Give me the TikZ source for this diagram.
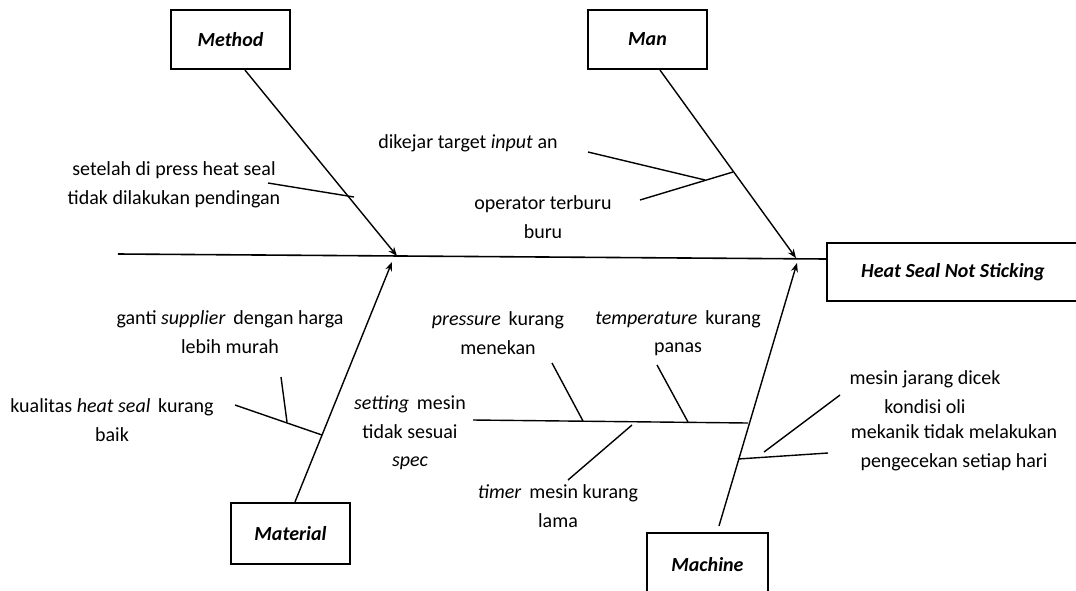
\documentclass[tikz,border=0pt]{standalone}
\usepackage{fontspec}
\setmainfont{Carlito}
\usetikzlibrary{arrows.meta}
\begin{document}
\begin{tikzpicture}[x=1pt,y=-1pt,
  txt/.style={font=\fontsize{20}{28.5}\selectfont},
  bone/.style={line width=1.4pt},
  arr/.style={bone,-{Stealth[length=9pt,width=7pt]}},
  cat/.style={txt,draw,line width=2.2pt,inner sep=0pt,font=\fontsize{20}{28.5}\selectfont\bfseries\itshape},
  lbl/.style={txt,align=center,inner sep=0pt}]
\path[use as bounding box,clip] (0,0) rectangle (1076,590);

% category boxes and the effect box
\node[cat,minimum width=119pt,minimum height=59pt] (method) at (230.5,39.5) {Method};
\node[cat,minimum width=119pt,minimum height=59pt] (man) at (647.5,39.5) {Man};
\node[cat,minimum width=119pt,minimum height=61pt] (material) at (290.5,533.5) {Material};
\node[cat,minimum width=121pt,minimum height=64pt] (machine) at (707.5,565) {Machine};
\node[cat,minimum width=252pt,minimum height=58pt] (head) at (953,272) {Heat Seal Not Sticking};

% spine
\coordinate (s0) at (118,254);
\coordinate (s1) at (827,259);
\draw[line width=1.6pt] (s0) -- (s1);

% main bones
\coordinate (mt) at (397,256);
\coordinate (nt) at (796,258);
\coordinate (at) at (392,262);
\coordinate (ct) at (797,263);
\draw[arr] ([xshift=14.5pt]method.south) -- (mt);
\draw[arr] ([xshift=12.5pt]man.south) -- (nt);
\draw[arr] ([xshift=4.5pt]material.north) -- (at);
\draw[arr] ([xshift=11.5pt,yshift=6pt]machine.north) -- (ct);

% Method causes
\coordinate (c1a) at (268,183);
\coordinate (c1b) at (354,197);
\draw[bone] (c1a) -- (c1b);
\node[lbl] (t1) at (174,185) {setelah di press heat seal\\tidak dilakukan pendingan};

% Man causes
\coordinate (c2a) at (588,152);
\coordinate (c2j) at (705,180);
\coordinate (c2b) at (640,200);
\coordinate (c2m) at (733,172);
\draw[bone] (c2b) -- (c2m);
\draw[bone] (c2a) -- (c2j);
\node[lbl] (t2) at (468,143) {dikejar target \textit{input} an};
\node[lbl] (t3) at (543,217) {operator terburu\\buru};

% Material causes
\coordinate (c4a) at (235,405);
\coordinate (c4m) at (322,435);
\coordinate (c4j) at (287,422);
\coordinate (c4b) at (281,377);
\draw[bone] (c4a) -- (c4m);
\draw[bone] (c4b) -- (c4j);
\node[lbl] (t4) at (230,332) {ganti \textit{supplier}\, dengan harga\\lebih murah};
\node[lbl] (t5) at (112,420) {kualitas \textit{heat seal}\, kurang\\baik};

% Machine causes
\coordinate (c6a) at (473,420);
\coordinate (c6m) at (748,423);
\coordinate (c7a) at (552,363);
\coordinate (c7j) at (583,421);
\coordinate (c8a) at (657,365);
\coordinate (c8j) at (688,422);
\coordinate (c9a) at (568,480);
\coordinate (c9j) at (632,425);
\coordinate (c10a) at (840,395);
\coordinate (c10b) at (764,452);
\coordinate (c11a) at (828,453);
\coordinate (c11m) at (738,459);
\draw[bone] (c6a) -- (c6m);
\draw[bone] (c7a) -- (c7j);
\draw[bone] (c8a) -- (c8j);
\draw[bone] (c9a) -- (c9j);
\draw[bone] (c10a) -- (c10b);
\draw[bone] (c11a) -- (c11m);
\node[lbl] (t6) at (410,433) {\textit{setting}\, mesin\\tidak sesuai\\\textit{spec}};
\node[lbl] (t7) at (498,333) {\textit{pressure}\, kurang\\menekan};
\node[lbl] (t8) at (678,333) {\textit{temperature}\, kurang\\panas};
\node[lbl] (t9) at (558,506) {\textit{timer}\, mesin kurang\\lama};
\node[lbl] (t10) at (925,392) {mesin jarang dicek\\kondisi oli};
\node[lbl] (t11) at (954,448) {mekanik tidak melakukan\\pengecekan setiap hari};
\end{tikzpicture}
\end{document}
